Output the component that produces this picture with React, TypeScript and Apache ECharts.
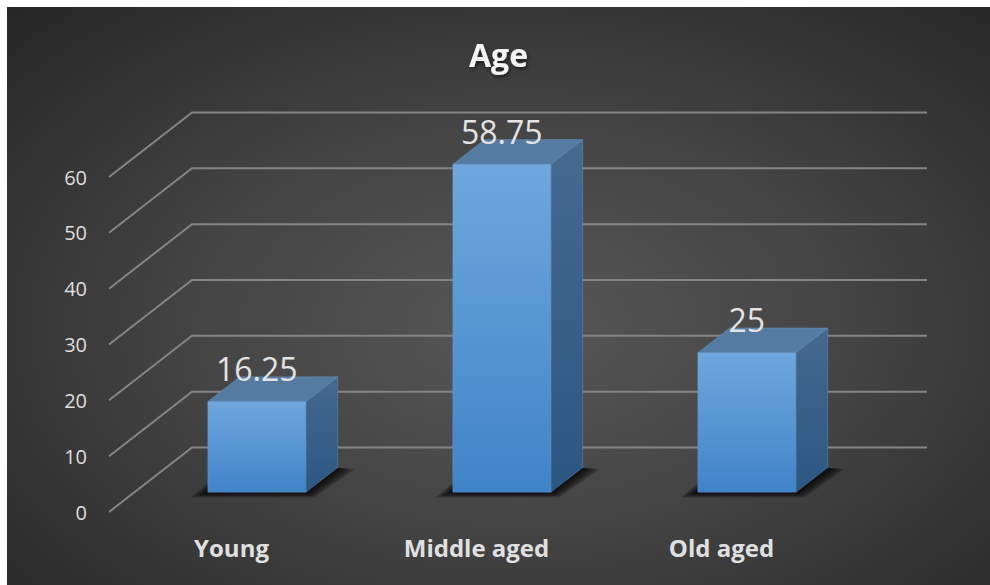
import React, { useEffect, useRef } from "react";
import * as echarts from "echarts";

// Age group shares (percent)
const categories = ["Young", "Middle aged", "Old aged"];
const ageShares = [16.25, 58.75, 25];
const valueTicks = [0, 10, 20, 30, 40, 50, 60];

// Oblique projection of the depth axis (front plane -> back wall), in px
const DEPTH_X = 83;
const DEPTH_Y = -64.5;
// Where each box sits along the depth axis (0 = front, 1 = back wall)
const BOX_FRONT = 0.305;
const BOX_BACK = 0.69;
// Box width as a share of the category band
const BOX_WIDTH = 0.4;
// Layered spread of the soft floor shadow (px)
const SHADOW_SPREAD = [2, 5, 8, 11, 14, 17];

const FONT = "'Open Sans', 'Noto Sans', sans-serif";

export default function App() {
  const ref = useRef<HTMLDivElement>(null);

  useEffect(() => {
    const chart = echarts.init(ref.current!, null, { renderer: "svg" });

    const gridWalls = {
      type: "custom",
      silent: true,
      clip: false,
      z: 1,
      data: valueTicks.map((v) => [0, v]),
      renderItem: (params: any, api: any) => {
        const cs = params.coordSys;
        const y = api.coord([0, api.value(1)])[1];
        const x0 = cs.x;
        const x1 = cs.x + cs.width;
        return {
          type: "polyline",
          shape: {
            points: [
              [x0, y],
              [x0 + DEPTH_X, y + DEPTH_Y],
              [x1 + DEPTH_X, y + DEPTH_Y],
            ],
          },
          style: { stroke: "#858585", lineWidth: 2, fill: null },
        };
      },
    };

    const boxes = {
      type: "custom",
      clip: false,
      z: 2,
      data: ageShares.map((v, i) => [i, v]),
      renderItem: (_params: any, api: any) => {
        const idx = api.value(0);
        const v = api.value(1);
        const base = api.coord([idx, 0]);
        const top = api.coord([idx, v]);
        const w = api.size([1, 0])[0] * BOX_WIDTH;
        const fx = base[0] - w / 2 + DEPTH_X * BOX_FRONT;
        const fyB = base[1] + DEPTH_Y * BOX_FRONT;
        const fyT = top[1] + DEPTH_Y * BOX_FRONT;
        const bdx = DEPTH_X * (BOX_BACK - BOX_FRONT);
        const bdy = DEPTH_Y * (BOX_BACK - BOX_FRONT);

        const edge = "rgba(120,165,215,0.55)";

        // stacked translucent footprints give a soft shadow on the floor
        const shadowLayers = SHADOW_SPREAD.map((e) => ({
          type: "polygon",
          silent: true,
          shape: {
            points: [
              [fx - e, fyB + e * 0.3],
              [fx + w + e * 0.5, fyB + e * 0.3],
              [fx + w + bdx + e, fyB + bdy + e * 0.1],
              [fx + bdx - e * 0.5, fyB + bdy - e * 0.3],
            ],
          },
          style: { fill: "rgba(0,0,0,0.22)" },
        }));

        return {
          type: "group",
          children: [
            ...shadowLayers,
            {
              type: "polygon",
              shape: {
                points: [
                  [fx + w, fyT],
                  [fx + w + bdx, fyT + bdy],
                  [fx + w + bdx, fyB + bdy],
                  [fx + w, fyB],
                ],
              },
              style: {
                fill: new echarts.graphic.LinearGradient(0, 0, 0, 1, [
                  { offset: 0, color: "#46698f" },
                  { offset: 1, color: "#2b5783" },
                ]),
                stroke: edge,
                lineWidth: 0.6,
              },
            },
            {
              type: "polygon",
              shape: {
                points: [
                  [fx, fyT],
                  [fx + bdx, fyT + bdy],
                  [fx + w + bdx, fyT + bdy],
                  [fx + w, fyT],
                ],
              },
              style: { fill: "#557ba3", stroke: edge, lineWidth: 0.6 },
            },
            {
              type: "rect",
              shape: { x: fx, y: fyT, width: w, height: fyB - fyT },
              style: {
                fill: new echarts.graphic.LinearGradient(0, 0, 0, 1, [
                  { offset: 0, color: "#6fa7de" },
                  { offset: 1, color: "#3f84c8" },
                ]),
                stroke: edge,
                lineWidth: 0.6,
              },
            },
            {
              type: "text",
              z2: 10,
              style: {
                x: fx + w / 2,
                y: fyT - 33,
                text: String(v),
                align: "center",
                verticalAlign: "middle",
                fontFamily: FONT,
                fontSize: 32,
                fill: "#e3e3e3",
              },
            },
          ],
        };
      },
    };

    chart.setOption({
      animation: false,
      title: {
        text: "Age",
        left: "center",
        top: 26,
        textStyle: {
          fontFamily: FONT,
          fontWeight: "bold",
          fontSize: 32,
          color: "#f4f4f4",
          textShadowColor: "rgba(0,0,0,0.6)",
          textShadowBlur: 4,
          textShadowOffsetX: 1,
          textShadowOffsetY: 2,
        },
      },
      grid: { left: 102, right: 146, top: 170, bottom: 73, outerBoundsMode: "none" },
      xAxis: {
        type: "category",
        data: categories,
        axisLine: { show: false },
        axisTick: { show: false },
        splitLine: { show: false },
        axisLabel: {
          margin: 23,
          fontFamily: FONT,
          fontWeight: "bold",
          fontSize: 24,
          color: "#e0e0e0",
        },
      },
      yAxis: {
        type: "value",
        min: 0,
        max: 60,
        interval: 10,
        axisLine: { show: false },
        axisTick: { show: false },
        splitLine: { show: false },
        axisLabel: {
          margin: 22,
          fontFamily: FONT,
          fontSize: 20,
          color: "#dedede",
        },
      },
      series: [gridWalls, boxes],
    });

    return () => chart.dispose();
  }, []);

  return (
    <div
      ref={ref}
      style={{
        position: "absolute",
        left: 7,
        top: 7,
        width: 983,
        height: 578,
        background:
          "radial-gradient(ellipse farthest-corner at 52% 55%, #575757 0%, #444444 45%, #262626 100%)",
      }}
    />
  );
}
